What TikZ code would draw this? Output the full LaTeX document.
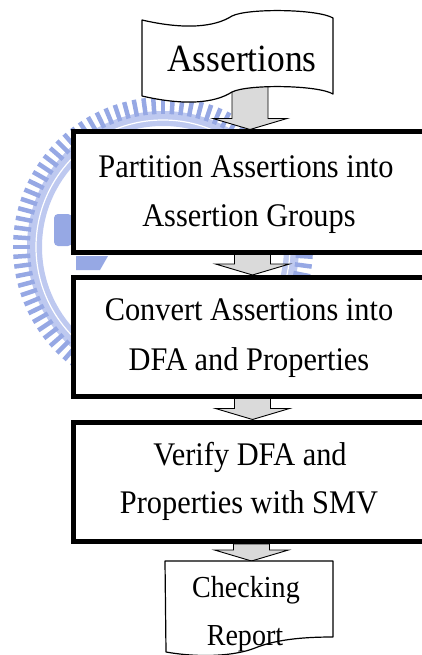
\documentclass[tikz,border=0pt]{standalone}
\usepackage{fontspec}
\setmainfont{Liberation Serif}
\newfontfamily\flowfont[FakeStretch=0.92]{Liberation Serif}
\usetikzlibrary{calc}

\definecolor{sealblue}{RGB}{150,168,228}
\definecolor{sealpale}{RGB}{190,201,240}
\definecolor{arrowgray}{RGB}{218,218,218}

\pgfdeclarelayer{seal}
\pgfdeclarelayer{arrows}
\pgfsetlayers{seal,arrows,main}

\tikzset{
  stepframe/.style={draw=black, line width=5pt, fill=white, inner sep=0pt,
                    anchor=north west, minimum width=359pt},
  linetext/.style={anchor=base, inner sep=0pt, font=\flowfont\fontsize{33}{38}\selectfont},
  titletext/.style={anchor=base, inner sep=0pt, font=\flowfont\fontsize{38.5}{44}\selectfont},
  doctext/.style={anchor=base, inner sep=0pt, font=\flowfont\fontsize{30.5}{35}\selectfont},
  blockarrow/.style={draw=black, line width=0.9pt, fill=arrowgray, line join=miter},
  thinshape/.style={draw=black, line width=1.2pt, fill=white, line join=round},
}

% block arrow: shaft from #1 down to a tip at the height of #2
\newcommand\flowarrow[2]{%
  \path[blockarrow] let \p1=(#1), \p2=(#2) in
    (\x1-18pt,\y1) -- (\x1+18pt,\y1) -- (\x1+18pt,\y2+11pt) -- (\x1+37pt,\y2+11pt)
    -- (\x1,\y2) -- (\x1-37pt,\y2+11pt) -- (\x1-18pt,\y2+11pt) -- cycle;}

\begin{document}
\begin{tikzpicture}[x=1pt,y=-1pt]
\useasboundingbox (0,0) rectangle (422,655);

% faint seal behind the flow
\begin{pgfonlayer}{seal}
  \coordinate (sealc) at (163,247);
  \fill[sealpale, even odd rule] (sealc) circle (136) (sealc) circle (121);
  \draw[white, line width=1.2pt] (sealc) circle (127);
  \foreach \a in {0,3.75,...,356}
    \draw[sealblue, line width=4.5pt] ($(sealc)+(\a:133)$) -- ($(sealc)+(\a:150)$);
  \fill[sealblue, rounded corners=4pt] (54,214) rectangle (72,246);
  \fill[sealblue] (76,256) -- (108,256) -- (100,270) -- (76,270) -- cycle;
\end{pgfonlayer}

% process steps
\node[stepframe, minimum height=120pt]   (p1) at (70.5,129.5) {};
\node[stepframe, minimum height=118.5pt] (p2) at (70.5,275) {};
\node[stepframe, minimum height=119.5pt] (p3) at (70.5,419.5) {};

\node[linetext] (p1a) at (246,177) {Partition Assertions into};
\node[linetext] (p1b) at (249,226) {Assertion Groups};
\node[linetext] (p2a) at (249,320) {Convert Assertions into};
\node[linetext] (p2b) at (249,370) {DFA and Properties};
\node[linetext] (p3a) at (250,465) {Verify DFA and};
\node[linetext] (p3b) at (249,513) {Properties with SMV};

% input: punched tape
\draw[thinshape] (142,20) .. controls (185,30) and (215,27) .. (232,16)
  .. controls (248,8) and (318,9) .. (333,18) -- (333,94)
  .. controls (318,85) and (248,84) .. (232,92)
  .. controls (215,103) and (185,106) .. (142,96) -- cycle;
\node[titletext] (src) at (242,72) {Assertions};
\coordinate (srcfoot) at (250,80);

% output: document
\draw[thinshape] (165,561) -- (333,561) -- (333,637)
  .. controls (300,637) and (275,640) .. (255,648)
  .. controls (235,656) and (200,658) .. (166,652) -- cycle;
\coordinate (reptop) at (249,561);
\node[doctext] (rpa) at (246,597) {Checking};
\node[doctext] (rpb) at (245,645) {Report};

% connectors
\begin{pgfonlayer}{arrows}
  \flowarrow{srcfoot}{p1.north}
  \flowarrow{p1.south}{p2.north}
  \flowarrow{p2.south}{p3.north}
  \coordinate (p3foot) at ($(p3.south)+(-1,0)$);
  \flowarrow{p3foot}{reptop}
\end{pgfonlayer}
\end{tikzpicture}
\end{document}
